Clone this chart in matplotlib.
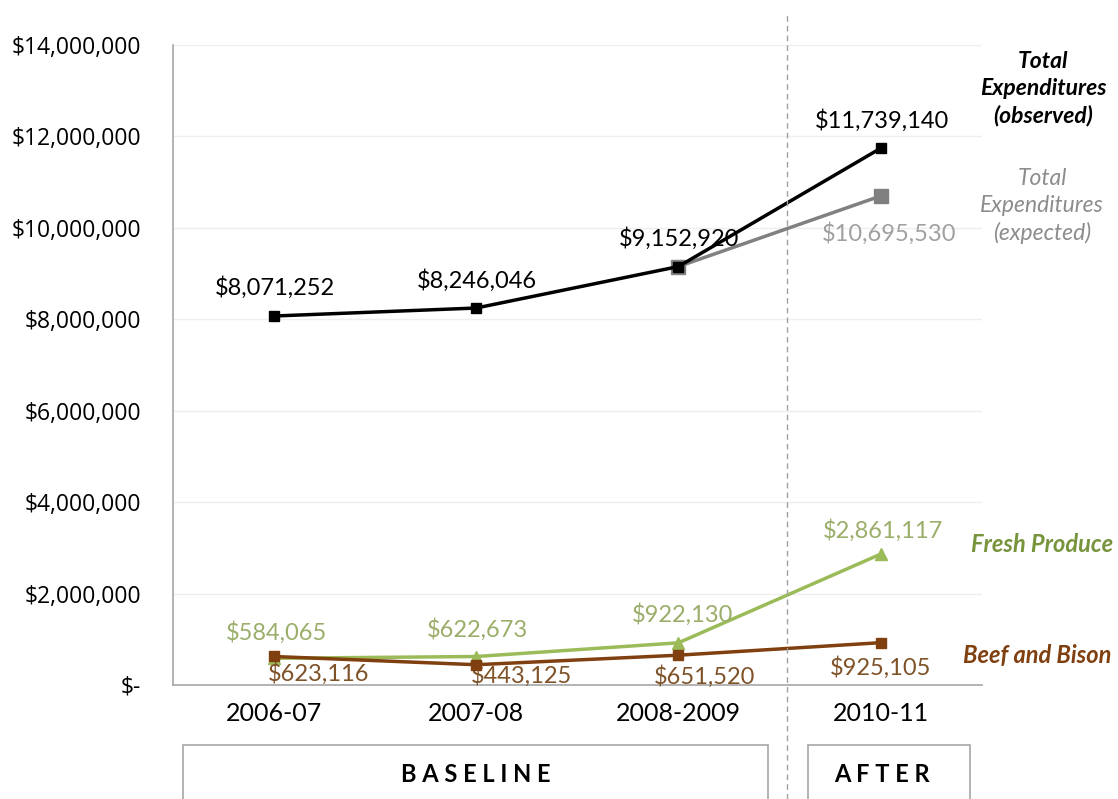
import numpy as np
import matplotlib.pyplot as plt
from matplotlib.patches import Rectangle
from matplotlib.ticker import FuncFormatter

years = ['2006-07', '2007-08', '2008-2009', '2010-11']
total_obs = [8071252, 8246046, 9152920, 11739140]
total_exp = [9152920, 10695530]          # only 2008-2009 and 2010-11
fresh = [584065, 622673, 922130, 2861117]
beef = [623116, 443125, 651520, 925105]
yticks = np.arange(0, 14000001, 2000000)

plt.rcParams['font.family'] = ['Lato', 'DejaVu Sans']

fig = plt.figure(figsize=(11.18, 7.99), dpi=100)
ax = fig.add_axes([0.1547, 0.1427, 0.7233, 0.801])

x = np.arange(len(years))
c_green = '#9bbb59'
c_brown = '#7f3f0f'
c_gray = '#808080'

ax.plot(x, fresh, color=c_green, lw=2.5, marker='^', ms=8, zorder=3)
ax.plot(x, beef, color=c_brown, lw=2.5, marker='s', ms=7, zorder=4)
ax.plot(x[2:], total_exp, color=c_gray, lw=2.5, marker='s', ms=10, zorder=3)
ax.plot(x, total_obs, color='black', lw=2.5, marker='s', ms=7, zorder=4)

ax.set_xlim(-0.5, 3.5)
ax.set_ylim(0, 14000000)
ax.set_yticks(yticks)
ax.yaxis.set_major_formatter(FuncFormatter(
    lambda v, p: '$-' if v == 0 else '${:,.0f}'.format(v)))
ax.set_xticks(x)
ax.set_xticklabels(years, fontsize=18)
ax.tick_params(axis='y', labelsize=16.5, length=0, pad=23)
ax.tick_params(axis='x', length=0, pad=12)
for t in ax.get_yticklabels():
    t.set_fontfamily(['Open Sans', 'DejaVu Sans'])
ax.grid(axis='y', color='#eeeeee', lw=1)
ax.set_axisbelow(True)
for s in ['top', 'right']:
    ax.spines[s].set_visible(False)
for s in ['left', 'bottom']:
    ax.spines[s].set_color('#a6a6a6')
    ax.spines[s].set_linewidth(1.2)

# data labels (offsets in pixels from the marker)
fs = 17
def label(i, v, off, color):
    ax.annotate('${:,}'.format(v), (i, v), xytext=off, textcoords='offset pixels',
                ha='center', va='center', fontsize=fs, color=color)

for i, v in enumerate(total_obs):
    label(i, v, (1, 28), 'black')
label(3, total_exp[1], (9, -37), '#a0a0a0')
fresh_off = [(2, 26), (1, 27), (4, 28), (2, 24)]
for i, v in enumerate(fresh):
    label(i, v, fresh_off[i], '#9aae6a')
beef_off = [(45, -17), (45, -11), (26, -21), (0, -25)]
for i, v in enumerate(beef):
    label(i, v, beef_off[i], '#7f5228')

# series names on the right
fig.text(1043 / 1118, 1 - 89 / 799, 'Total\nExpenditures\n(observed)', ha='center', va='center',
         fontsize=16.5, fontweight='bold', fontstyle='italic', color='black', linespacing=1.35)
fig.text(1042 / 1118, 1 - 206 / 799, 'Total\nExpenditures\n(expected)', ha='center', va='center',
         fontsize=16.5, fontstyle='italic', color='#8c8c8c', linespacing=1.35)
fig.text(1042 / 1118, 1 - 544 / 799, 'Fresh Produce', ha='center', va='center',
         fontsize=17, fontweight='bold', fontstyle='italic', color='#77933c')
fig.text(1037 / 1118, 1 - 656 / 799, 'Beef and Bison', ha='center', va='center',
         fontsize=17, fontweight='bold', fontstyle='italic', color='#7f3f0f')

# divider and period boxes
fig.add_artist(plt.Line2D([787 / 1118, 787 / 1118], [0, 1 - 12 / 799], color='#a0a0a0',
                          lw=1, ls=(0, (4, 3))))
fig.add_artist(Rectangle((183 / 1118, -0.01), 585 / 1118, 0.01 + 54 / 799,
                         transform=fig.transFigure, fill=False, ec='#a6a6a6', lw=1.2))
fig.add_artist(Rectangle((808 / 1118, -0.01), 162 / 1118, 0.01 + 54 / 799,
                         transform=fig.transFigure, fill=False, ec='#a6a6a6', lw=1.2))
fig.text(476 / 1118, 1 - 775 / 799, 'B A S E L I N E', ha='center', va='center',
         fontsize=17, fontweight='bold', color='black')
fig.text(882 / 1118, 1 - 775 / 799, 'A F T E R', ha='center', va='center',
         fontsize=17, fontweight='bold', color='black')

fig.savefig('out.png', dpi=100)
